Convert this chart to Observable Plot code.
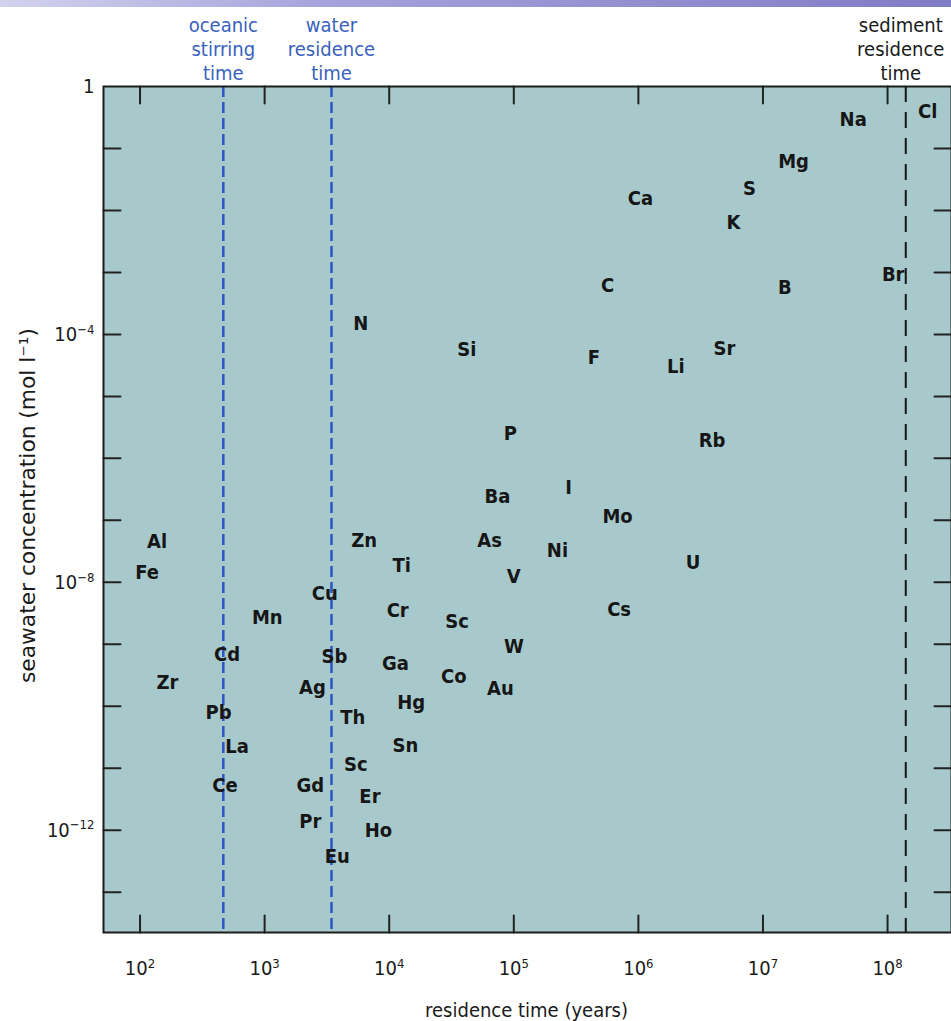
<!DOCTYPE html>
<html><head><meta charset="utf-8">
<script src="https://cdn.jsdelivr.net/npm/d3@7"></script>
<script src="https://cdn.jsdelivr.net/npm/@observablehq/plot@0.6"></script>
<style>
body{margin:0;background:#fff;}
#wrap{position:relative;width:951px;height:1021px;overflow:hidden;}
#bar{position:absolute;left:0;top:0;width:951px;height:7px;background:linear-gradient(90deg,#d2d2ee,#a4a2da 35%,#7f7cc6);z-index:2;}
</style></head><body><div id="wrap"><div id="bar"></div></div>
<script>
// element symbols, residence time (years), seawater concentration (mol/l)
const elements = ["Na","Cl","Mg","S","Ca","K","C","B","Br","N","Si","F","Li","Sr","P","Rb","I","Ba","Mo","As","Ni","U","V","Cs","Sc","W","Co","Au",
  "Al","Fe","Zn","Ti","Cu","Mn","Cr","Cd","Sb","Ga","Zr","Ag","Hg","Pb","Th","La","Sn","Sc","Ce","Gd","Er","Pr","Ho","Eu"];
const residence = [5.3e7,2.1e8,1.76e7,7.8e6,1.04e6,5.8e6,5.65e5,1.5e7,1.11e8,5.9e3,4.2e4,4.4e5,2.0e6,4.9e6,9.4e4,3.9e6,2.75e5,7.4e4,6.8e5,6.4e4,2.24e5,2.75e6,1.0e5,7.0e5,3.5e4,1.0e5,3.3e4,7.8e4,
  1.37e2,1.14e2,6.3e3,1.26e4,3.04e3,1.05e3,1.17e4,5.0e2,3.64e3,1.12e4,1.66e2,2.42e3,1.5e4,4.27e2,5.1e3,6.0e2,1.35e4,5.4e3,4.8e2,2.33e3,7.0e3,2.33e3,8.2e3,3.83e3];
const concentration = [0.29,0.39,0.061,0.0225,0.0156,6.4e-3,6.2e-4,5.8e-4,9.4e-4,1.48e-4,5.6e-5,4.2e-5,3.0e-5,5.8e-5,2.5e-6,1.95e-6,3.4e-7,2.4e-7,1.17e-7,4.8e-8,3.3e-8,2.1e-8,1.22e-8,3.6e-9,2.3e-9,9.2e-10,3.0e-10,1.9e-10,
  4.5e-8,1.42e-8,4.8e-8,1.84e-8,6.5e-9,2.7e-9,3.5e-9,6.8e-10,6.4e-10,4.9e-10,2.45e-10,2.0e-10,1.16e-10,8.0e-11,6.6e-11,2.2e-11,2.3e-11,1.14e-11,5.2e-12,5.2e-12,3.5e-12,1.37e-12,9.8e-13,3.75e-13];

const xTicks = [1e2,1e3,1e4,1e5,1e6,1e7,1e8];
const yTicks = [1e-1,1e-2,1e-3,1e-4,1e-5,1e-6,1e-7,1e-8,1e-9,1e-10,1e-11,1e-12,1e-13];
const yLabelTicks = [1,1e-4,1e-8,1e-12];
const blueMarkers = ["oceanic\nstirring\ntime","water\nresidence\ntime"];
const blueTimes = [466,3440];
const sedimentMarker = ["sediment\nresidence\ntime"];
const sedimentTime = [1.4e8];

const table = elements.map((e,i)=>({el:e, t:residence[i], c:concentration[i]}));
const FONT = "'Liberation Sans Narrow','DejaVu Sans Condensed','Arial Narrow',sans-serif";
const lineShape = {draw(ctx,l){ctx.moveTo(0,0);ctx.lineTo(0,-l);}};
const expFmt = d => d === 1 ? "1" : "10^" + Math.round(Math.log10(d));

const chart = Plot.plot({
  width:951, height:1021,
  marginLeft:103, marginRight:0, marginTop:86, marginBottom:89,
  x:{type:"log", domain:[50.9,3.26e8]},
  y:{type:"log", domain:[2.24e-14,1]},
  style:{fontFamily:FONT, background:"transparent", color:"#1a1a1a"},
  marks:[
    Plot.frame({fill:"#a8c9cc"}),
    Plot.ruleX(blueTimes,{stroke:"#2a55c2", strokeWidth:2.5, strokeDasharray:"11,5"}),
    Plot.ruleX(sedimentTime,{stroke:"#161616", strokeWidth:2, strokeDasharray:"16,10"}),
    Plot.vector(xTicks,{x:d=>d, frameAnchor:"bottom", length:17, rotate:0, anchor:"start", shape:lineShape, stroke:"#222", strokeWidth:2}),
    Plot.vector(xTicks,{x:d=>d, frameAnchor:"top", length:17, rotate:180, anchor:"start", shape:lineShape, stroke:"#222", strokeWidth:2}),
    Plot.vector(yTicks,{y:d=>d, frameAnchor:"left", length:17, rotate:90, anchor:"start", shape:lineShape, stroke:"#222", strokeWidth:2}),
    Plot.vector(yTicks,{y:d=>d, frameAnchor:"right", length:17, rotate:-90, anchor:"start", shape:lineShape, stroke:"#222", strokeWidth:2}),
    Plot.frame({stroke:"#1c1c1c", strokeWidth:2}),
    Plot.text(table,{x:"t", y:"c", text:"el", fontSize:20, fontWeight:"bold", fill:"#161616"}),
    Plot.axisX({ticks:xTicks, tickSize:0, tickPadding:28, tickFormat:expFmt, fontSize:20, label:null}),
    Plot.axisY({ticks:yLabelTicks, tickSize:0, tickPadding:9, tickFormat:expFmt, fontSize:20, label:null}),
    Plot.text(blueMarkers,{x:blueTimes, frameAnchor:"top", dy:-38, lineAnchor:"middle", lineHeight:1.2, fontSize:20, fill:"#3a62bd"}),
    Plot.text(sedimentMarker,{x:sedimentTime, frameAnchor:"top", dy:-38, dx:-5, lineAnchor:"middle", lineHeight:1.2, fontSize:20, fill:"#1a1a1a"}),
    Plot.text(["residence time (years)"],{frameAnchor:"bottom", dx:-1, dy:78, lineAnchor:"middle", fontSize:20, fill:"#1a1a1a"}),
    Plot.text(["seawater concentration (mol l\u207B\u00B9)"],{frameAnchor:"left", dx:-75, dy:-4, rotate:-90, lineAnchor:"middle", fontSize:21, fill:"#1a1a1a"})
  ]
});

// render exponents as raised tspans; stretch the y label to the reference length
const Y_LABEL_LEN = 355;
chart.querySelectorAll("text").forEach(t=>{
  const m = /^10\^(-?\d+)$/.exec(t.textContent);
  if(m){
    t.textContent = "10";
    const s = document.createElementNS("http://www.w3.org/2000/svg","tspan");
    s.setAttribute("dy","-0.55em");
    s.setAttribute("font-size","13");
    s.textContent = m[1].replace("-","\u2212");
    t.appendChild(s);
  } else if (t.textContent.startsWith("seawater")) {
    t.setAttribute("text-anchor","start");
    t.setAttribute("x", String(-Y_LABEL_LEN/2));
    t.setAttribute("textLength", String(Y_LABEL_LEN));
    t.setAttribute("lengthAdjust","spacingAndGlyphs");
  }
});
document.getElementById("wrap").appendChild(chart);
chart.style.position="absolute"; chart.style.left="0"; chart.style.top="0";
</script></body></html>
